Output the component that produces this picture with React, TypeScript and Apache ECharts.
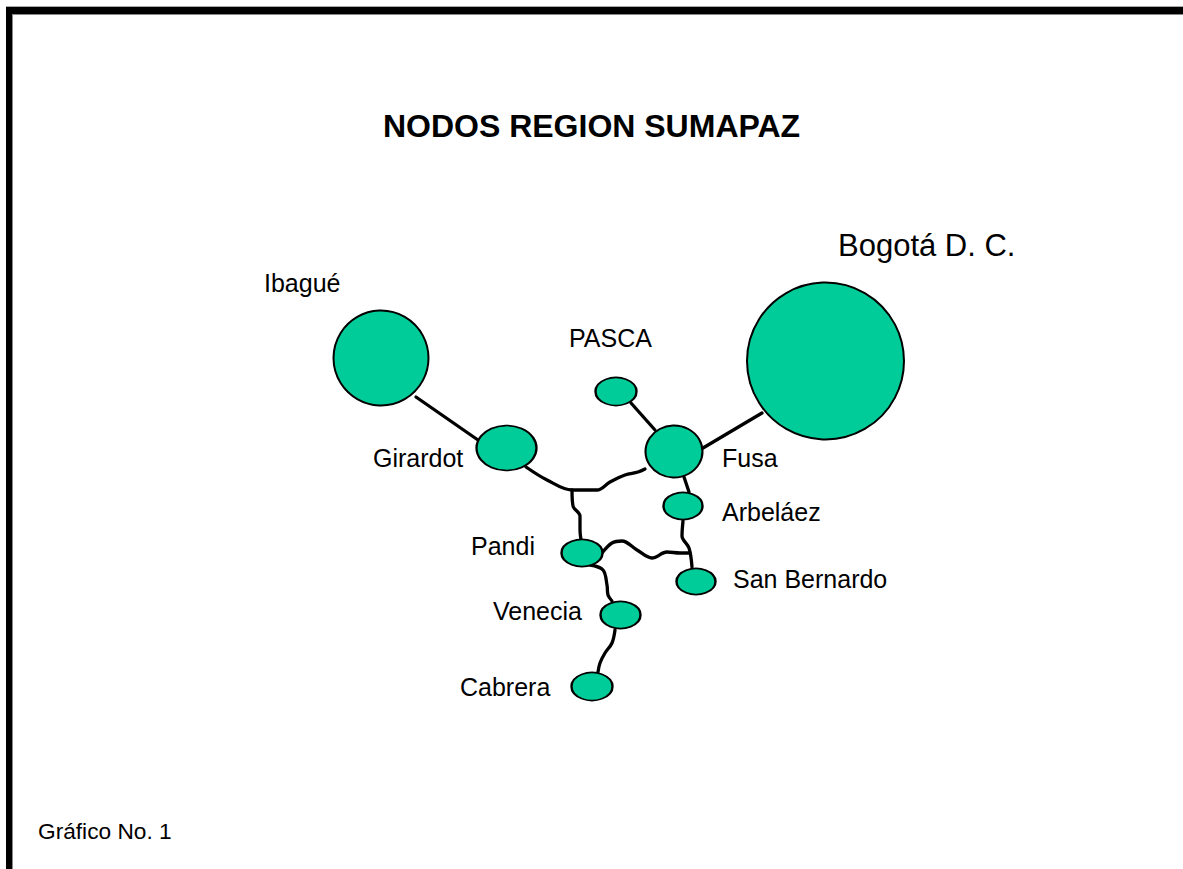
import React, { useEffect, useRef } from "react";
import * as echarts from "echarts";

const W = 1183;
const H = 869;

const titleText = "NODOS REGION SUMAPAZ";
const footnoteText = "Gráfico No. 1";

// Nodes (centre and ellipse size)
const nodeNames = ["Ibagué", "Bogotá D. C.", "Girardot", "PASCA", "Fusa", "Arbeláez", "San Bernardo", "Pandi", "Venecia", "Cabrera"];
const nodeX = [381, 825.5, 506.5, 616, 674, 683, 696, 582, 620.5, 592];
const nodeY = [358, 361, 448, 391.5, 451.5, 506, 581.5, 553, 615, 686.5];
const nodeW = [95, 157, 60, 41, 57, 39, 39, 41, 40, 41];
const nodeH = [95, 157, 45, 28, 52, 27, 26, 27, 27, 28];

// Labels (left edge and baseline of each text)
const labelX = [264, 838, 373, 569, 722, 722, 733, 471, 493, 460];
const labelBase = [292, 256, 467, 347, 467, 521, 588, 555, 620, 696];
const labelSize = [25, 31, 25, 25, 25, 25, 25, 25, 25, 25];

// Edges (polyline points of each road)
const edgeIbagueGirardot = [[416, 397], [478, 440]];
const edgePascaFusa = [[631, 403], [655, 430]];
const edgeFusaBogota = [[703, 448], [762, 413]];
const edgeGirardotFusa = [[526, 467], [547, 480], [572, 490], [597, 490], [610, 482], [625, 475], [638, 472], [645, 469]];
const edgeJunctionPandi = [[572, 490], [573, 506], [580, 516], [580, 530], [581, 540]];
const edgePandiSanBernardo = [[602, 553], [612, 543], [622, 541], [637, 550], [652, 558], [667, 552], [680, 553], [690, 553]];
const edgeArbelaezSanBernardo = [[683, 521], [682, 536], [689, 548], [692, 567]];
const edgeFusaArbelaez = [[684, 477], [689, 492]];
const edgePandiVenecia = [[590, 565], [603, 570], [607, 585], [608, 595], [612, 601]];
const edgeVeneciaCabrera = [[615, 630], [612, 643], [605, 653], [600, 663], [598, 672]];

const edges = [
  edgeIbagueGirardot,
  edgePascaFusa,
  edgeFusaBogota,
  edgeGirardotFusa,
  edgeJunctionPandi,
  edgePandiSanBernardo,
  edgeArbelaezSanBernardo,
  edgeFusaArbelaez,
  edgePandiVenecia,
  edgeVeneciaCabrera,
];

const FONT = "'Liberation Sans', Arial, Helvetica, sans-serif";

export default function App() {
  const ref = useRef<HTMLDivElement>(null);

  useEffect(() => {
    if (!ref.current) return;
    const chart = echarts.init(ref.current, undefined, { renderer: "svg" });

    const edgeSeries = edges.map((pts, i) => ({
      type: "line",
      name: "edge" + i,
      data: pts,
      smooth: 0.35,
      showSymbol: false,
      symbol: "none",
      silent: true,
      z: 1,
      lineStyle: { color: "#000", width: 3.3, cap: "round", join: "round", opacity: 1 },
    }));

    const option: any = {
      animation: false,
      backgroundColor: "#fff",
      grid: { left: 0, right: 0, top: 0, bottom: 0 },
      xAxis: { type: "value", min: 0, max: W, show: false },
      yAxis: { type: "value", min: 0, max: H, inverse: true, show: false },
      title: {
        text: titleText,
        left: "center",
        top: 105,
        textStyle: { fontFamily: FONT, fontSize: 32, fontWeight: "bold", color: "#000" },
      },
      graphic: [
        { type: "rect", shape: { x: 6, y: 7, width: W, height: 7 }, style: { fill: "#000" }, z: 10 },
        { type: "rect", shape: { x: 6, y: 7, width: 6, height: H }, style: { fill: "#000" }, z: 10 },
        { type: "line", shape: { x1: 6, y1: 6.5, x2: W, y2: 6.5 }, style: { stroke: "#aaa", lineWidth: 1 }, z: 10 },
        { type: "line", shape: { x1: 12, y1: 14.5, x2: W, y2: 14.5 }, style: { stroke: "#888", lineWidth: 1 }, z: 10 },
        { type: "line", shape: { x1: 12.5, y1: 14, x2: 12.5, y2: H }, style: { stroke: "#888", lineWidth: 1 }, z: 10 },
        {
          type: "text",
          left: 38,
          top: 819,
          style: { text: footnoteText, fontFamily: FONT, fontSize: 22.7, fill: "#000" },
        },
      ],
      series: [
        ...edgeSeries,
        {
          type: "scatter",
          name: "nodes",
          silent: true,
          z: 3,
          symbol: "circle",
          data: nodeNames.map((n, i) => ({
            name: n,
            value: [nodeX[i], nodeY[i]],
            symbolSize: [nodeW[i], nodeH[i]],
          })),
          itemStyle: { color: "#00CC99", borderColor: "#000", borderWidth: 2, opacity: 1 },
        },
        {
          type: "scatter",
          name: "labels",
          silent: true,
          z: 4,
          symbolSize: 0,
          itemStyle: { opacity: 1 },
          label: { show: true, color: "#000", opacity: 1 },
          data: nodeNames.map((n, i) => ({
            name: n,
            value: [labelX[i], labelBase[i] - 0.35 * labelSize[i]],
            label: {
              show: true,
              position: "inside",
              align: "left",
              verticalAlign: "middle",
              formatter: n,
              fontFamily: FONT,
              fontSize: labelSize[i],
              color: "#000",
              opacity: 1,
            },
          })),
        },
      ],
    };

    chart.setOption(option);
    return () => chart.dispose();
  }, []);

  return (
    <div
      ref={ref}
      style={{ position: "fixed", left: 0, top: 0, width: W, height: H, background: "#fff" }}
    />
  );
}
